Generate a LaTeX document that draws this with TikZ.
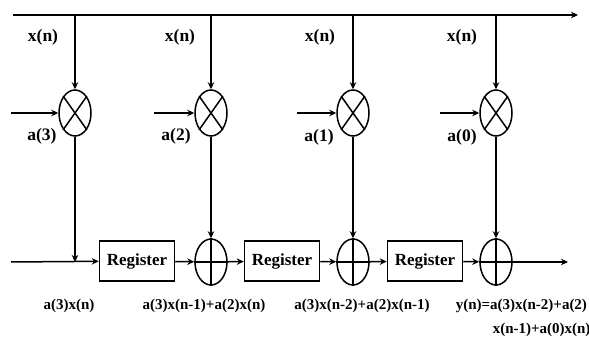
\documentclass[tikz,border=0pt]{standalone}
\usepackage{fontspec}
\setmainfont{Liberation Serif}
\usetikzlibrary{arrows.meta,shapes.geometric}

\tikzset{
  arr/.style={-{Stealth[length=7pt,width=6.5pt]}},
  oval/.style={draw,ellipse,minimum width=32pt,minimum height=46pt,inner sep=0pt},
  reg/.style={draw,minimum width=75pt,minimum height=40pt,inner sep=0pt,font=\fontsize{17}{19}\selectfont\bfseries},
  lab/.style={font=\fontsize{17.5}{19}\selectfont\bfseries,inner sep=0pt},
  sum/.style={font=\fontsize{15}{17}\selectfont\bfseries,inner sep=0pt}
}

\begin{document}
\begin{tikzpicture}[x=1pt,y=-1pt,line width=1.5pt]
 \useasboundingbox (0,0) rectangle (589,339);

 % multipliers
 \node[oval] (m3) at (75,113) {};
 \node[oval] (m2) at (211,113) {};
 \node[oval] (m1) at (353,113) {};
 \node[oval] (m0) at (496,113) {};
 \foreach \m in {m3,m2,m1,m0}{
  \draw (\m.north east) -- (\m.south west);
  \draw (\m.north west) -- (\m.south east);
 }

 % adders and registers
 \node[reg] (r1) at (137,261) {Register};
 \node[oval] (a2) at (211,262) {};
 \node[reg] (r2) at (282,261) {Register};
 \node[oval] (a1) at (353,262) {};
 \node[reg] (r3) at (425,261) {Register};
 \node[oval] (a0) at (496,262) {};
 \foreach \a in {a2,a1,a0}{
  \draw (\a.north) -- (\a.south);
  \draw (\a.west) -- (\a.east);
 }

 % x(n) bus
 \coordinate (xin) at (13,15);
 \coordinate (xout) at (578,15);
 \draw[arr] (xin) -- (xout);
 \coordinate (t3) at (75,15);
 \coordinate (t2) at (211,15);
 \coordinate (t1) at (353,15);
 \coordinate (t0) at (496,15);
 \draw[arr] (t3) -- (m3);
 \draw[arr] (t2) -- (m2);
 \draw[arr] (t1) -- (m1);
 \draw[arr] (t0) -- (m0);

 % coefficients
 \coordinate (c3) at (11,113);
 \coordinate (c2) at (154,113);
 \coordinate (c1) at (297,113);
 \coordinate (c0) at (440,113);
 \draw[arr] (c3) -- (m3);
 \draw[arr] (c2) -- (m2);
 \draw[arr] (c1) -- (m1);
 \draw[arr] (c0) -- (m0);

 % output line
 \coordinate (yin) at (11,262);
 \coordinate (j3) at (75,262);
 \coordinate (yout) at (568,262);
 \draw[arr] (m3) -- (j3);
 \draw[arr] (yin) -- (r1);
 \draw[arr] (m2) -- (a2);
 \draw[arr] (m1) -- (a1);
 \draw[arr] (m0) -- (a0);
 \draw[arr] (r1) -- (a2);
 \draw[arr] (a2) -- (r2);
 \draw[arr] (r2) -- (a1);
 \draw[arr] (a1) -- (r3);
 \draw[arr] (r3) -- (a0);
 \draw[arr] (a0) -- (yout);

 % labels
 \path (43,37) node[lab](x3){x(n)};
 \path (180,37) node[lab](x2){x(n)};
 \path (320,37) node[lab](x1){x(n)};
 \path (462,37) node[lab](x0){x(n)};
 \path (42,136) node[lab](k3){a(3)};
 \path (176,136) node[lab](k2){a(2)};
 \path (319,137) node[lab](k1){a(1)};
 \path (462,137) node[lab](k0){a(0)};
 \path (69,306) node[sum](s3){a(3)x(n)};
 \path (204,306) node[sum](s2){a(3)x(n-1)+a(2)x(n)};
 \path (362,306) node[sum](s1){a(3)x(n-2)+a(2)x(n-1)};
 \path (455,306) node[sum,anchor=west](s0){y(n)=a(3)x(n-2)+a(2)};
 \path (492,330) node[sum,anchor=west](s0b){x(n-1)+a(0)x(n)};
\end{tikzpicture}
\end{document}
